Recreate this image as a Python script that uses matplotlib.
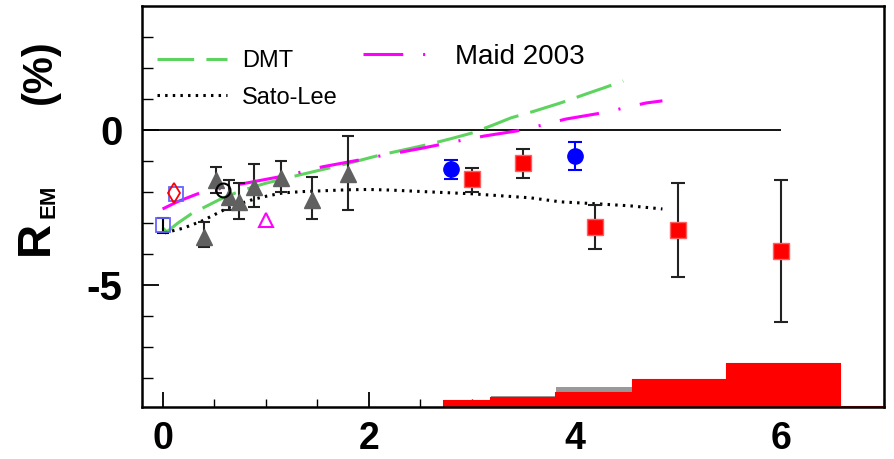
import matplotlib
matplotlib.use("Agg")
import matplotlib.pyplot as plt
from matplotlib.lines import Line2D
import numpy as np

plt.rcParams['font.family'] = ['Liberation Sans', 'DejaVu Sans']
plt.rcParams['axes.unicode_minus'] = False

# ---------------- data ----------------
# red squares
red_x = [3.0, 3.5, 4.2, 5.0, 6.0]
red_y = [-1.58, -1.06, -3.13, -3.23, -3.90]
red_hi = [-1.23, -0.61, -2.42, -1.71, -1.61]
red_lo = [-2.00, -1.55, -3.84, -4.74, -6.19]

# blue filled circles
blue_x = [2.8, 4.0]
blue_y = [-1.26, -0.84]
blue_hi = [-0.97, -0.39]
blue_lo = [-1.58, -1.29]

# grey triangles
tri_x = [0.40, 0.52, 0.64, 0.74, 0.89, 1.15, 1.45, 1.80]
tri_y = [-3.45, -1.61, -2.16, -2.32, -1.84, -1.55, -2.26, -1.42]
tri_hi = [-2.97, -1.19, -1.61, -1.71, -1.10, -1.00, -1.52, -0.19]
tri_lo = [-3.77, -2.03, -2.58, -2.87, -2.48, -2.00, -2.87, -2.58]

# open blue squares
osq_x = [0.0, 0.13]
osq_y = [-3.06, -2.07]
osq_hi = [-2.84, -2.07]
osq_lo = [-3.32, -2.07]

# others
dia_x = [0.11]
dia_y = [-2.03]
circ_x = [0.59]
circ_y = [-1.94]
mtri_x = [1.0]
mtri_y = [-2.9]

# theory curves
dmt_x = [0.0, 0.04, 0.15, 0.29, 0.39, 0.55, 0.73, 0.85, 1.0, 1.21, 1.33, 1.6, 1.8,
         2.11, 2.4, 2.6, 2.8, 3.0, 3.2, 3.38, 3.6, 3.86, 4.1, 4.3, 4.47]
dmt_y = [-3.16, -3.29, -3.0, -2.68, -2.52, -2.25, -2.0, -1.87, -1.72, -1.55, -1.45,
         -1.24, -1.08, -0.81, -0.6, -0.45, -0.28, -0.1, 0.15, 0.39, 0.6, 0.87, 1.15,
         1.38, 1.58]

maid_x = [0.0, 0.14, 0.34, 0.55, 0.77, 1.12, 1.33, 1.55, 1.89, 2.11, 2.5, 2.8, 3.13,
          3.44, 3.7, 3.91, 4.28, 4.69, 4.85]
maid_y = [-2.55, -2.32, -2.06, -1.9, -1.74, -1.52, -1.37, -1.19, -0.98, -0.84, -0.6,
          -0.4, -0.19, -0.03, 0.17, 0.35, 0.56, 0.87, 0.94]

sato_x = [0.02, 0.2, 0.38, 0.5, 0.63, 0.76, 0.89, 1.03, 1.17, 1.35, 1.5, 1.8, 2.0,
          2.21, 2.6, 3.0, 3.57, 3.86, 4.25, 4.54, 4.85]
sato_y = [-3.32, -3.17, -2.94, -2.74, -2.52, -2.37, -2.23, -2.12, -2.03, -1.99, -1.97,
          -1.93, -1.92, -1.94, -2.0, -2.06, -2.19, -2.32, -2.39, -2.45, -2.55]

# systematic error histogram (bin edges, heights above the frame bottom)
sys_edges = [2.73, 3.19, 3.82, 4.56, 5.48, 6.57, 7.0]
sys_red = [0.20, 0.29, 0.46, 0.87, 1.39, 0.0]
sys_grey = [0.20, 0.37, 0.65, 0.87, 1.39, 0.0]

YMIN, YMAX = -8.94, 4.0
XMIN, XMAX = -0.2, 7.0

# ---------------- figure ----------------
fig = plt.figure(figsize=(8.95, 4.59), dpi=100)
ax = fig.add_axes([142/895, 52/459, 742/895, 401/459])
ax.set_xlim(XMIN, XMAX)
ax.set_ylim(YMIN, YMAX)

# histogram
ax.stairs(np.array(sys_grey) + YMIN, sys_edges, baseline=YMIN, fill=True,
          color='#999999', zorder=1)
ax.stairs(np.array(sys_red) + YMIN, sys_edges, baseline=YMIN, fill=True,
          color='#ff0000', zorder=2)
ax.stairs(np.array(sys_red) + YMIN, sys_edges, baseline=YMIN, fill=False,
          color='#ff0000', lw=1.5, zorder=2)

# zero line
ax.hlines(0, XMIN, 6.0, color='black', lw=1.3, zorder=2)

DOTS = (0.8, 1.7)
# curves
ax.plot(dmt_x, dmt_y, color='#5fd35f', lw=2.2, dashes=(12, 4), zorder=3)
ax.plot(maid_x, maid_y, color='#ff00ff', lw=2.2, dashes=(13, 6.5, 0.7, 6.5), zorder=3)
ax.plot(sato_x, sato_y, color='black', lw=2.2, dashes=DOTS, zorder=3)


def yerr(y, hi, lo):
    y = np.array(y); hi = np.array(hi); lo = np.array(lo)
    return np.vstack([y - lo, hi - y])


ax.errorbar(tri_x, tri_y, yerr=yerr(tri_y, tri_hi, tri_lo), fmt='^', ms=11,
            mfc='#606060', mec='#606060', ecolor='#222222', elinewidth=1.5,
            capsize=4.5, capthick=1.5, zorder=4)
ax.errorbar(osq_x[:1], osq_y[:1], yerr=yerr(osq_y[:1], osq_hi[:1], osq_lo[:1]),
            fmt='none', ecolor='black', elinewidth=1.5, capsize=4.5, capthick=1.5, zorder=4)
ax.plot(osq_x, osq_y, 's', ms=10, mfc='none', mec='#6464ff', mew=1.3, zorder=5)
ax.plot(dia_x, dia_y, 'd', ms=10, mfc='none', mec='#ff0000', mew=1.3, zorder=5)
ax.plot(circ_x, circ_y, 'o', ms=10, mfc='none', mec='black', mew=1.5, zorder=5)
ax.plot(mtri_x, mtri_y, '^', ms=10, mfc='none', mec='#ff00ff', mew=1.5, zorder=5)
ax.errorbar(blue_x, blue_y, yerr=yerr(blue_y, blue_hi, blue_lo), fmt='o', ms=11,
            mfc='#0000ff', mec='#0000ff', ecolor='#0000ff', elinewidth=1.5,
            capsize=5, capthick=1.5, zorder=5)
ax.errorbar(red_x, red_y, yerr=yerr(red_y, red_hi, red_lo), fmt='s', ms=12,
            mfc='#ff0000', mec='#ff6060', ecolor='#222222', elinewidth=1.5,
            capsize=5, capthick=1.5, zorder=5)

# ticks
ax.set_xticks([0, 2, 4, 6])
ax.set_xticks(np.arange(0, 7.01, 0.5), minor=True)
ax.set_yticks([-5, 0])
ax.set_yticks(np.arange(-8, 3.5, 1), minor=True)
ax.tick_params(axis='both', which='both', direction='in', top=False, right=False)
ax.tick_params(axis='y', which='major', length=12, width=1.3, pad=14)
ax.tick_params(axis='y', which='minor', length=8, width=1.0)
ax.tick_params(axis='x', which='major', length=11, width=1.3, pad=10)
ax.tick_params(axis='x', which='minor', length=6, width=1.0)
for lab in ax.get_xticklabels():
    lab.set_fontsize(27)
    lab.set_fontweight('bold')
for lab in ax.get_yticklabels():
    lab.set_fontsize(29)
    lab.set_fontweight('bold')
for s in ax.spines.values():
    s.set_linewidth(1.8)

# legends
h_dmt = Line2D([], [], color='#5fd35f', lw=2.2, dashes=(12, 4))
h_sato = Line2D([], [], color='black', lw=2.2, dashes=DOTS)
h_maid = Line2D([], [], color='#ff00ff', lw=2.2, dashes=(13, 6.5, 0.7, 6.5))
leg1 = ax.legend([h_dmt, h_sato], ['DMT', 'Sato-Lee'], loc='upper left',
                 bbox_to_anchor=(15/742, 1 - 44/401), frameon=False, fontsize=17,
                 handlelength=2.95, handletextpad=0.65, labelspacing=0.62,
                 borderpad=0, borderaxespad=0)
ax.add_artist(leg1)
ax.legend([h_maid], ['Maid 2003'], loc='upper left',
          bbox_to_anchor=(221/742, 1 - 38/401), frameon=False, fontsize=20,
          handlelength=2.3, handletextpad=1.0, borderpad=0, borderaxespad=0)

# y-axis title
fig.text(36/895, 1 - 238/459, 'R', rotation=90, fontsize=34, fontweight='bold',
         ha='center', va='center')
fig.text(49/895, 1 - 201/459, 'EM', rotation=90, fontsize=16, fontweight='bold',
         ha='center', va='center')
fig.text(40/895, 1 - 72/459, '(%)', rotation=90, fontsize=30, fontweight='bold',
         ha='center', va='center')

fig.savefig('out.png', dpi=100)
